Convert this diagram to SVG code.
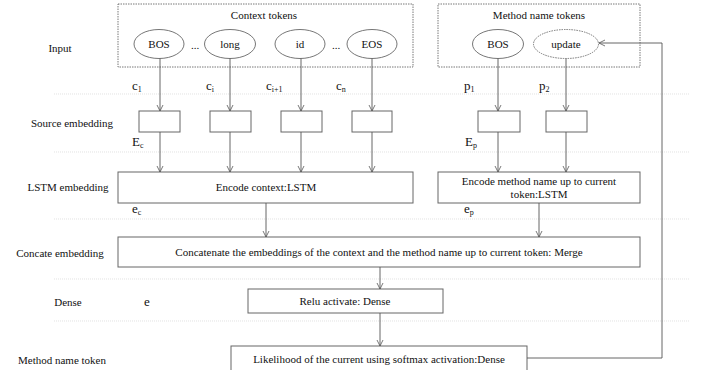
<svg xmlns="http://www.w3.org/2000/svg" width="718" height="370" viewBox="0 0 718 370">
<defs>
<marker id="ah" markerWidth="8" markerHeight="8" refX="7" refY="4" orient="auto" markerUnits="userSpaceOnUse">
<path d="M1,1 L7,4 L1,7" fill="none" stroke="#555" stroke-width="0.8"/>
</marker>
<style>
text{font-family:"Liberation Serif","Times New Roman",serif;font-size:11px;fill:#111}
.lbl{text-anchor:middle}
.var{font-size:13px}
.sub{font-size:8px}
.box{fill:#fff;stroke:#666;stroke-width:1}
.grp{fill:none;stroke:#555;stroke-width:0.8;stroke-dasharray:1.5 1}
.ell{fill:#fff;stroke:#666;stroke-width:0.9}
.ell2{fill:#fff;stroke:#666;stroke-width:0.9;stroke-dasharray:1.5 1}
.sep{stroke:#d6d6d6;stroke-width:0.7;stroke-dasharray:1 1}
.con{fill:none;stroke:#555;stroke-width:0.9;marker-end:url(#ah)}
</style>
</defs>
<rect width="718" height="370" fill="#fff"/>

<g id="separators">
<line class="sep" x1="54" y1="94" x2="690" y2="94"/>
<line class="sep" x1="54" y1="152" x2="690" y2="152"/>
<line class="sep" x1="54" y1="219" x2="690" y2="219"/>
<line class="sep" x1="54" y1="279" x2="690" y2="279"/>
<line class="sep" x1="54" y1="321" x2="690" y2="321"/>
</g>

<g id="row-labels">
<text x="60" y="52" class="lbl">Input</text>
<text x="72" y="127" class="lbl">Source embedding</text>
<text x="68" y="191" class="lbl">LSTM embedding</text>
<text x="60" y="257" class="lbl">Concate embedding</text>
<text x="68" y="306" class="lbl">Dense</text>
<text x="62" y="364" class="lbl">Method name token</text>
</g>

<g id="context-group">
<rect class="grp" x="118" y="4" width="295" height="63"/>
<text x="264" y="19" class="lbl">Context tokens</text>
<text x="195" y="49" class="lbl">...</text>
<text x="336" y="49" class="lbl">...</text>
</g>
<g id="method-group">
<rect class="grp" x="438" y="4" width="202" height="63"/>
<text x="539" y="19" class="lbl">Method name tokens</text>
</g>

<g id="tok-bos"><ellipse class="ell" cx="159" cy="44" rx="25" ry="14.5"/><text x="159" y="48" class="lbl">BOS</text></g>
<g id="tok-long"><ellipse class="ell" cx="230" cy="44" rx="25.5" ry="14.5"/><text x="230" y="48" class="lbl">long</text></g>
<g id="tok-id"><ellipse class="ell" cx="300" cy="44" rx="25" ry="14.5"/><text x="300" y="48" class="lbl">id</text></g>
<g id="tok-eos"><ellipse class="ell" cx="372" cy="44" rx="25" ry="14.5"/><text x="372" y="48" class="lbl">EOS</text></g>
<g id="tok-mbos"><ellipse class="ell" cx="498" cy="44" rx="25.5" ry="14.5"/><text x="498" y="48" class="lbl">BOS</text></g>
<g id="tok-update"><ellipse class="ell2" cx="566" cy="44" rx="32.5" ry="14.5"/><text x="566" y="48" class="lbl">update</text></g>

<g id="emb-1"><rect class="box" x="139" y="111" width="41" height="21"/></g>
<g id="emb-2"><rect class="box" x="210" y="111" width="41" height="21"/></g>
<g id="emb-3"><rect class="box" x="281" y="111" width="41" height="21"/></g>
<g id="emb-4"><rect class="box" x="352" y="111" width="40" height="21"/></g>
<g id="emb-5"><rect class="box" x="478" y="111" width="42" height="21"/></g>
<g id="emb-6"><rect class="box" x="546" y="111" width="41" height="21"/></g>

<g id="lstm-context"><rect class="box" x="118" y="172" width="295" height="31"/><text x="266" y="191" class="lbl">Encode context:LSTM</text></g>
<g id="lstm-method"><rect class="box" x="438" y="172" width="202" height="31"/><text x="539" y="185" class="lbl">Encode method name up to current</text><text x="539" y="198" class="lbl">token:LSTM</text></g>
<g id="merge"><rect class="box" x="118" y="237" width="522" height="30"/><text x="379" y="256" class="lbl">Concatenate the embeddings of the context and the method name up to current token: Merge</text></g>
<g id="relu"><rect class="box" x="248" y="289" width="195" height="24"/><text x="345" y="305" class="lbl">Relu activate: Dense</text></g>
<g id="likelihood"><rect class="box" x="231" y="346" width="296" height="30"/><text x="379" y="363" class="lbl">Likelihood of the current using softmax activation:Dense</text></g>

<g id="var-labels">
<text x="132" y="90" class="var">c<tspan class="sub" dy="2">1</tspan></text>
<text x="206" y="90" class="var">c<tspan class="sub" dy="2">i</tspan></text>
<text x="266" y="90" class="var">c<tspan class="sub" dy="2">i+1</tspan></text>
<text x="336" y="90" class="var">c<tspan class="sub" dy="2">n</tspan></text>
<text x="464" y="90" class="var">p<tspan class="sub" dy="2">1</tspan></text>
<text x="539" y="90" class="var">p<tspan class="sub" dy="2">2</tspan></text>
<text x="132" y="146" class="var">E<tspan class="sub" dy="2">c</tspan></text>
<text x="465" y="146" class="var">E<tspan class="sub" dy="2">p</tspan></text>
<text x="132" y="213" class="var">e<tspan class="sub" dy="2">c</tspan></text>
<text x="464" y="213" class="var">e<tspan class="sub" dy="2">p</tspan></text>
<text x="144" y="306" class="var">e</text>
</g>

<g id="connectors">
<line class="con" x1="160" y1="58.5" x2="160" y2="111"/>
<line class="con" x1="230" y1="58.5" x2="230" y2="111"/>
<line class="con" x1="301" y1="58.5" x2="301" y2="111"/>
<line class="con" x1="372" y1="58.5" x2="372" y2="111"/>
<line class="con" x1="498" y1="58.5" x2="498" y2="111"/>
<line class="con" x1="566" y1="58.5" x2="566" y2="111"/>
<line class="con" x1="160" y1="132" x2="160" y2="172"/>
<line class="con" x1="230" y1="132" x2="230" y2="172"/>
<line class="con" x1="301" y1="132" x2="301" y2="172"/>
<line class="con" x1="372" y1="132" x2="372" y2="172"/>
<line class="con" x1="498" y1="132" x2="498" y2="172"/>
<line class="con" x1="566" y1="132" x2="566" y2="172"/>
<line class="con" x1="266" y1="203" x2="266" y2="237"/>
<line class="con" x1="539" y1="203" x2="539" y2="237"/>
<line class="con" x1="380" y1="267" x2="380" y2="289"/>
<line class="con" x1="380" y1="313" x2="380" y2="346"/>
<polyline class="con" points="527,358 662,358 662,43 599,43"/>
</g>
</svg>
